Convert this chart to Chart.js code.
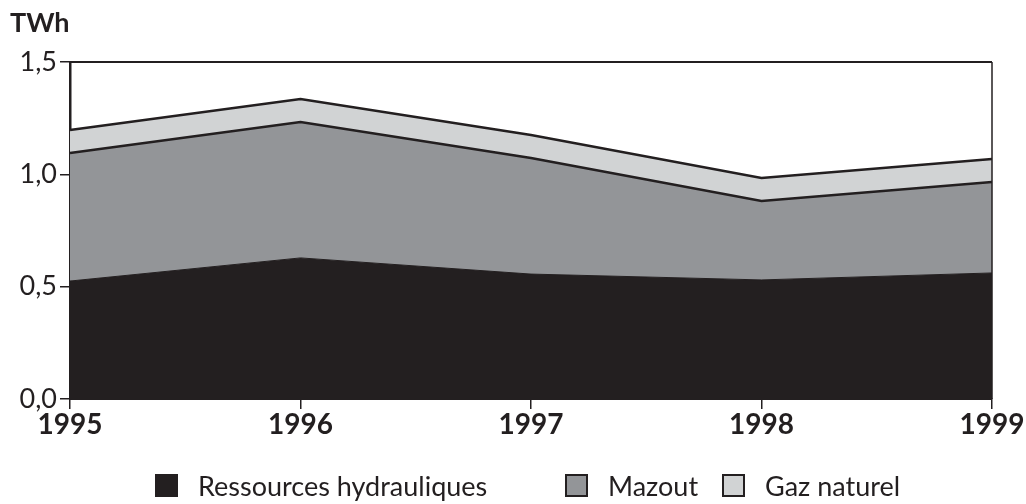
<!DOCTYPE html>
<html>
<head>
<meta charset="utf-8">
<script src="https://cdn.jsdelivr.net/npm/chart.js@4.4.1/dist/chart.umd.min.js"></script>
<style>
  html, body { margin: 0; padding: 0; background: #fff; }
  #wrap { position: relative; width: 1026px; height: 504px; font-family: Lato, sans-serif; }
  #unit { position: absolute; left: 10px; top: 5px; font-size: 27px; font-weight: bold; color: #231f20; }
  .leg { position: absolute; top: 469px; display: flex; align-items: center; font-size: 27px; color: #231f20; }
  .leg i { display: inline-block; width: 19px; height: 19px; margin-right: 20px; border: 2px solid #231f20; }
</style>
</head>
<body>
<div id="wrap">
  <canvas id="chart" width="1026" height="504"></canvas>
  <div id="unit">TWh</div>
  <div id="legend"></div>
</div>
<script>
// Production d'électricité par source (TWh)
const years = ['1995', '1996', '1997', '1998', '1999'];
const hydro = [0.525, 0.628, 0.556, 0.530, 0.561];
const mazout = [0.570, 0.605, 0.517, 0.351, 0.405];
const gaz = [0.102, 0.102, 0.102, 0.103, 0.102];
const yTickLabels = ['0,0', '0,5', '1,0', '1,5'];

const series = [
    { label: 'Ressources hydrauliques', data: hydro, color: '#231f20', line: 0 },
    { label: 'Mazout', data: mazout, color: '#939598', line: 2.5 },
    { label: 'Gaz naturel', data: gaz, color: '#d1d3d4', line: 2.5 }
];

// bordure haute et droite du cadre
const frame = {
    id: 'frame',
    afterDraw(chart) {
        const { ctx, chartArea: a } = chart;
        ctx.save();
        ctx.strokeStyle = '#231f20';
        ctx.lineWidth = 2;
        ctx.beginPath();
        ctx.moveTo(a.left, a.top);
        ctx.lineTo(a.right, a.top);
        ctx.stroke();
        ctx.lineWidth = 1.5;
        ctx.beginPath();
        ctx.moveTo(a.right, a.top);
        ctx.lineTo(a.right, a.bottom);
        ctx.stroke();
        ctx.restore();
    }
};

new Chart(document.getElementById('chart'), {
    type: 'line',
    data: {
        labels: years,
        datasets: series.map((s, i) => ({
            label: s.label,
            data: s.data,
            backgroundColor: s.color,
            borderColor: s.line ? '#231f20' : s.color,
            borderWidth: s.line || 1,
            fill: i === 0 ? 'origin' : '-1',
            pointRadius: 0,
            tension: 0
        }))
    },
    options: {
        responsive: false,
        animation: false,
        layout: { padding: { top: 62, right: 34, left: 0, bottom: 0 } },
        plugins: { legend: { display: false }, tooltip: { enabled: false } },
        scales: {
            x: {
                offset: false,
                afterFit: s => { s.height = 105; },
                grid: { drawOnChartArea: false, drawTicks: true, tickLength: 10, color: '#231f20', lineWidth: 1.5 },
                border: { display: true, color: '#231f20', width: 2 },
                ticks: { color: '#231f20', padding: -1, font: { family: 'Lato', size: 28, weight: 'bold' }, maxRotation: 0 }
            },
            y: {
                stacked: true,
                min: 0,
                max: 1.5,
                afterFit: s => { s.width = 70; },
                grid: { drawOnChartArea: false, drawTicks: true, tickLength: 10, color: '#231f20', lineWidth: 1.5 },
                border: { display: true, color: '#231f20', width: 2.5 },
                ticks: {
                    stepSize: 0.5,
                    color: '#231f20',
                    padding: 3,
                    font: { family: 'Lato', size: 27 },
                    callback: (v, i) => yTickLabels[i]
                }
            }
        }
    },
    plugins: [frame]
});

// légende
const legendLeft = [155, 565, 722];
const legend = document.getElementById('legend');
series.forEach((s, i) => {
    const item = document.createElement('div');
    item.className = 'leg';
    item.style.left = legendLeft[i] + 'px';
    item.innerHTML = `<i style="background:${s.color}"></i>${s.label}`;
    legend.appendChild(item);
});
</script>
</body>
</html>
